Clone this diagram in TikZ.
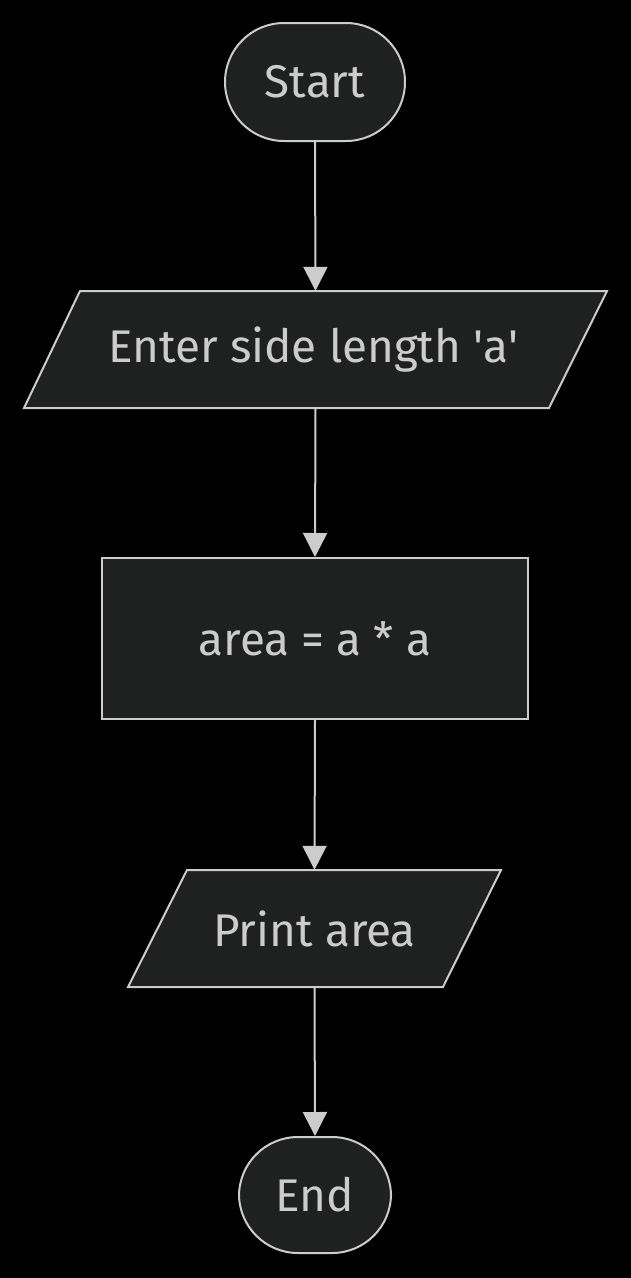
\documentclass[tikz,border=0pt]{standalone}
\usepackage{fontspec}
\setmainfont{Fira Sans}
\usetikzlibrary{arrows.meta}
\definecolor{bg}{HTML}{000000}
\definecolor{nodefill}{HTML}{1F2020}
\definecolor{edge}{HTML}{CCCCCC}
\definecolor{txt}{HTML}{CCCCCC}
\tikzset{
  base/.style={fill=nodefill, draw=edge, line width=2bp, text=txt, font=\fontsize{46}{52}\selectfont, inner sep=0pt},
  term/.style={base, rounded corners=59bp, minimum height=118bp},
  procbox/.style={base, minimum width=426bp, minimum height=161bp},
  iotext/.style={text=txt, font=\fontsize{46}{52}\selectfont, inner sep=0pt, minimum height=117bp},
  iobox/.style={fill=nodefill, draw=edge, line width=2bp, line join=miter},
  conn/.style={draw=edge, line width=2bp, -{Triangle[length=24bp, width=24bp]}}
}
\begin{document}
\begin{tikzpicture}[x=1bp, y=-1bp]
  \fill[bg] (0,0) rectangle (631,1278);
  \useasboundingbox (0,0) rectangle (631,1278);
  % Start
  \node[term, minimum width=180bp] (start) at (315,82) {Start};
  % Input parallelogram
  \node[iotext, minimum width=470bp] (in) at (315.5,349.5) {};
  \draw[iobox] (80,291) -- (607,291) -- (549,408) -- (24,408) -- cycle;
  \node[iotext] (intext) at (313.5,349.5) {Enter side length \textquotesingle a\textquotesingle};
  % Process
  \node[procbox] (proc) at (315,638.5) {area = a * a};
  % Output parallelogram
  \node[iotext, minimum width=260bp] (out) at (314.5,928.5) {};
  \draw[iobox] (187,870) -- (501,870) -- (443,987) -- (128,987) -- cycle;
  \node[iotext] (outtext) at (314.5,928.5) {Print area};
  % End
  \node[term, minimum width=152bp, minimum height=116bp] (end) at (315,1195) {End};
  % Connectors
  \draw[conn] (start.south) -- (in.north);
  \draw[conn] (in.south) -- (proc.north);
  \draw[conn] (proc.south) -- (out.north);
  \draw[conn] (out.south) -- (end.north);
\end{tikzpicture}
\end{document}
